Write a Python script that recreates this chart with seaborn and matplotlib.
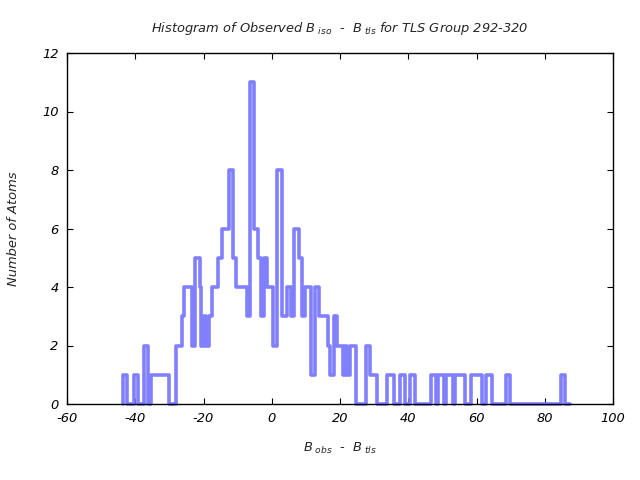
import numpy as np
import matplotlib
matplotlib.use("Agg")
import matplotlib.pyplot as plt
import seaborn as sns

# step edges (B_obs - B_tls) and atom counts for each step
edges = [-43.53, -42.36, -40.48, -39.31, -37.55, -36.38, -35.50, -29.99,
         -27.99, -26.17, -25.59, -23.39, -22.36, -21.13, -20.60, -19.72,
         -19.13, -18.26, -17.52, -15.62, -14.44, -12.45, -11.22, -10.34,
         -7.26, -6.38, -5.21, -3.94, -3.01, -2.36, -1.30, 0.37, 1.54, 2.92,
         4.57, 5.50, 6.61, 7.84, 8.72, 9.75, 11.51, 12.68, 13.85, 16.35,
         17.02, 18.18, 19.18, 20.89, 21.33, 21.92, 22.95, 24.71, 27.64,
         28.81, 30.78, 33.80, 35.85, 37.61, 39.08, 40.54, 42.01, 46.70,
         48.08, 48.61, 50.51, 51.10, 53.01, 53.83, 56.76, 58.43, 61.72,
         62.89, 64.65, 68.75, 69.87, 84.82, 85.99, 87.32]
counts = [1, 0, 1, 0, 2, 0, 1, 0,
          2, 3, 4, 2, 5, 4, 2, 3,
          2, 3, 4, 5, 6, 8, 5, 4,
          3, 11, 6, 5, 3, 5, 4, 2, 8, 3,
          4, 3, 6, 5, 3, 4, 1, 4, 3, 2,
          1, 3, 2, 1, 2, 1, 2, 0, 2,
          1, 0, 1, 0, 1, 0, 1, 0, 1,
          0, 1, 0, 1, 0, 1, 0, 1, 0,
          1, 0, 1, 0, 1, 0]

xticks = [-60, -40, -20, 0, 20, 40, 60, 80, 100]
yticks = [0, 2, 4, 6, 8, 10, 12]

sns.set_style("white")
plt.rcParams["font.family"] = ["DejaVu Sans"]
plt.rcParams["mathtext.fontset"] = "custom"
plt.rcParams["mathtext.it"] = "DejaVu Sans:italic"
plt.rcParams["mathtext.rm"] = "DejaVu Sans:italic"

fig = plt.figure(figsize=(6.4, 4.8), dpi=100)
ax = fig.add_axes([67 / 640, 76 / 480, 546 / 640, 351 / 480])

xs = np.r_[edges[0], edges]
ys = np.r_[0, counts, counts[-1]]
sns.lineplot(x=xs, y=ys, drawstyle="steps-post", sort=False, estimator=None,
             color="#8080ff", linewidth=2.6, ax=ax, clip_on=False)

ax.set_xlim(-60, 100)
ax.set_ylim(0, 12)
ax.set_xticks(xticks)
ax.set_yticks(yticks)
fs = 9.4
ax.set_xticklabels([str(t) for t in xticks], fontsize=fs, style="italic")
ax.set_yticklabels([str(t) for t in yticks], fontsize=fs, style="italic")
ax.tick_params(direction="in", length=4, width=0.8, top=True, right=True,
               bottom=True, left=True, pad=6, colors="black")
for s in ax.spines.values():
    s.set_visible(True)
    s.set_color("black")
    s.set_linewidth(1.0)
    s.set_zorder(5)

ax.set_title(r"Histogram of Observed $B_{\ iso}$  -  $B_{\ tls}$ for TLS Group 292-320",
             fontsize=fs, style="italic", pad=15)
ax.set_xlabel(r"$B_{\ obs}$  -  $B_{\ tls}$", fontsize=fs, style="italic", labelpad=11)
ax.set_ylabel("Number of Atoms", fontsize=fs, style="italic", labelpad=16)

fig.savefig("out.png", dpi=100)
